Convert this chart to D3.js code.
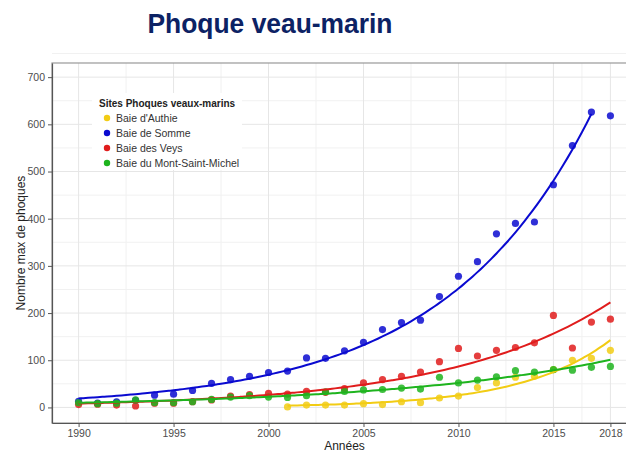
<!DOCTYPE html>
<html>
<head>
<meta charset="utf-8">
<script src="https://cdn.jsdelivr.net/npm/d3@7"></script>
<style>
  body { margin: 0; background: #fff; }
  svg { display: block; font-family: "Liberation Sans", Arial, sans-serif; }
</style>
</head>
<body>
<div class="plot"></div>
<script>
// data
const years = [1990,1991,1992,1993,1994,1995,1996,1997,1998,1999,2000,2001,2002,2003,2004,
  2005,2006,2007,2008,2009,2010,2011,2012,2013,2014,2015,2016,2017,2018];
const authie = [null,null,null,null,null,null,null,null,null,null,null,
  1,5,5,5,8,6,12,10,20,24,42,52,64,66,80,100,104,121];
const somme = [13,9,12,15,26,28,36,51,59,66,74,77,105,104,120,138,165,180,185,235,278,309,368,390,393,472,555,626,618];
const veys = [6,7,5,3,9,9,12,16,24,27,30,28,34,32,40,52,59,66,75,97,125,109,121,127,137,195,126,181,187];
const msm = [10,8,9,16,10,10,12,17,22,25,22,21,25,33,34,37,38,41,39,64,52,58,65,78,75,80,79,85,87];

const siteNames = ["Baie d'Authie","Baie de Somme","Baie des Veys","Baie du Mont-Saint-Michel"];
const siteValues = [authie, somme, veys, msm];
const siteColors = ['#f2cc14','#0a0ad0','#e01c1c','#1eb41e'];
const curveLastYear = [2018, 2017, 2018, 2018]; // Somme curve stops at 2017

const xTicks = [1990,1995,2000,2005,2010,2015,2018];
const xMinor = [1992.5,1997.5,2002.5,2007.5,2012.5,2016.5];
const yTicks = [0,100,200,300,400,500,600,700];

const W = 626, H = 452;
const pLeft = 52, pTop = 63, pBottom = 423, pRight = 637;

const svg = d3.select('.plot').append('svg')
  .attr('width', W)
  .attr('height', H);

svg.append('text')
  .attr('x', 270).attr('y', 33)
  .attr('text-anchor', 'middle')
  .attr('textLength', 245).attr('lengthAdjust', 'spacingAndGlyphs')
  .style('font-size', '28px')
  .style('font-weight', 'bold')
  .style('fill', '#0c2264')
  .text('Phoque veau-marin');

const x = d3.scaleLinear().domain([1988.6, 2019.4]).range([pLeft, pRight]);
const y = d3.scaleLinear().domain([-33, 730]).range([pBottom, pTop]);

// grid
const grid = svg.append('g');
grid.selectAll('.vmin').data(xMinor).join('line')
  .attr('x1', d => x(d)).attr('x2', d => x(d))
  .attr('y1', pTop).attr('y2', pBottom)
  .style('stroke', '#f1f1f1').style('stroke-width', 1);
grid.selectAll('.hmin').data(yTicks.map(d => d + 50)).join('line')
  .attr('x1', pLeft).attr('x2', pRight)
  .attr('y1', d => y(d)).attr('y2', d => y(d))
  .style('stroke', '#f1f1f1').style('stroke-width', 1);
grid.selectAll('.vmaj').data(xTicks).join('line')
  .attr('x1', d => x(d)).attr('x2', d => x(d))
  .attr('y1', pTop).attr('y2', pBottom)
  .style('stroke', '#e6e6e6').style('stroke-width', 1);
grid.selectAll('.hmaj').data(yTicks).join('line')
  .attr('x1', pLeft).attr('x2', pRight)
  .attr('y1', d => y(d)).attr('y2', d => y(d))
  .style('stroke', '#e6e6e6').style('stroke-width', 1);

// panel border
svg.append('rect')
  .attr('x', pLeft).attr('y', pTop)
  .attr('width', pRight - pLeft).attr('height', pBottom - pTop)
  .style('fill', 'none').style('stroke', '#999').style('stroke-width', 1.2);

// axes
const xAxis = svg.append('g')
  .attr('transform', `translate(0,${pBottom})`)
  .call(d3.axisBottom(x).tickValues(xTicks).tickFormat(d3.format('d')).tickSize(4).tickSizeOuter(0));
const yAxis = svg.append('g')
  .attr('transform', `translate(${pLeft},0)`)
  .call(d3.axisLeft(y).tickValues(yTicks).tickSize(4).tickSizeOuter(0));
[xAxis, yAxis].forEach(function(a){
  a.select('.domain').style('stroke', '#555').style('stroke-width', 1.2);
  a.selectAll('.tick line').style('stroke', '#555');
  a.selectAll('.tick text')
    .style('font-size', '10.5px')
    .style('fill', '#4d4d4d')
    .style('font-family', '"Liberation Sans", Arial, sans-serif');
});

svg.append('text')
  .attr('x', (pLeft + pRight) / 2).attr('y', 450)
  .attr('text-anchor', 'middle')
  .style('font-size', '12px').style('fill', '#222')
  .text('Années');
svg.append('text')
  .attr('transform', `translate(25,${(pTop + pBottom) / 2}) rotate(-90)`)
  .attr('text-anchor', 'middle')
  .style('font-size', '12px').style('fill', '#222')
  .text('Nombre max de phoques');

// poisson glm (log link) fit, a la geom_smooth
function expFit(pts){
  let b0 = Math.log(d3.mean(pts, p => p.v)), b1 = 0;
  for (let it = 0; it < 60; it++){
    const w = [], z = [];
    pts.forEach(function(p){
      const eta = b0 + b1 * p.t, mu = Math.exp(eta);
      w.push(mu); z.push(eta + (p.v - mu) / mu);
    });
    const sw = d3.sum(w);
    const tb = d3.sum(pts, (p, i) => w[i] * p.t) / sw;
    const zb = d3.sum(z, (d, i) => w[i] * d) / sw;
    let num = 0, den = 0;
    pts.forEach(function(p, i){
      num += w[i] * (p.t - tb) * (z[i] - zb);
      den += w[i] * (p.t - tb) * (p.t - tb);
    });
    b1 = num / den; b0 = zb - b1 * tb;
  }
  return t => Math.exp(b0 + b1 * t);
}

const plot = svg.append('g');
const series = siteNames.map(function(name, k){
  const pts = years.map((yr, i) => ({year: yr, v: siteValues[k][i]})).filter(p => p.v != null);
  return {name: name, color: siteColors[k], pts: pts, last: curveLastYear[k]};
});

// points
series.forEach(function(s){
  plot.append('g').selectAll('circle').data(s.pts).join('circle')
    .attr('cx', d => x(d.year)).attr('cy', d => y(d.v))
    .attr('r', 3.6)
    .style('fill', s.color).style('fill-opacity', 0.85);
});

// smoothed curves
const line = d3.line().x(d => x(d.year)).y(d => y(d.v)).curve(d3.curveMonotoneX);
series.forEach(function(s){
  const fitPts = s.pts.map(p => ({t: p.year - 2000, v: p.v}));
  const f = expFit(fitPts);
  const x0 = s.pts[0].year;
  const curve = d3.range(x0, s.last + 0.001, 0.25).map(yr => ({year: yr, v: f(yr - 2000)}));
  plot.append('path').datum(curve)
    .attr('d', line)
    .style('fill', 'none')
    .style('stroke', s.color)
    .style('stroke-width', 2);
});

// legend
const lg = svg.append('g').attr('transform', 'translate(92,93)');
lg.append('rect').attr('width', 150).attr('height', 77).style('fill', '#fff');
lg.append('text').attr('x', 7).attr('y', 14)
  .style('font-size', '10px').style('font-weight', 'bold').style('fill', '#222')
  .text('Sites Phoques veaux-marins');
series.forEach(function(s, i){
  lg.append('circle').attr('cx', 15).attr('cy', 25 + i * 15).attr('r', 3.2).style('fill', s.color);
  lg.append('text').attr('x', 24).attr('y', 29 + i * 15)
    .style('font-size', '10.5px').style('fill', '#333')
    .text(s.name);
});
</script>
</body>
</html>
